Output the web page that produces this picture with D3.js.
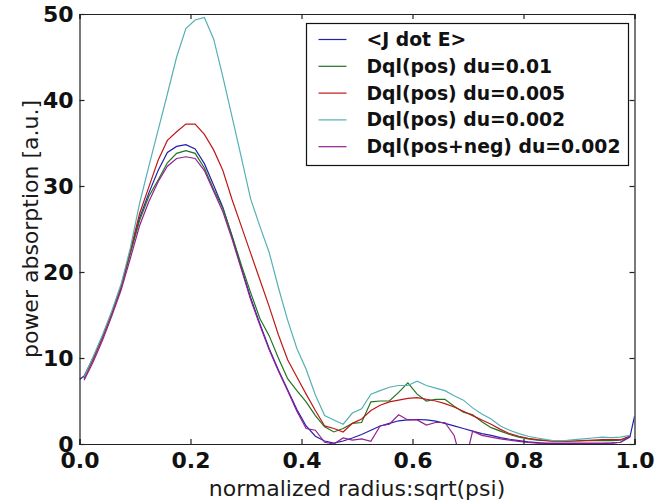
<!DOCTYPE html>
<html>
<head>
<meta charset="utf-8">
<script src="https://cdn.jsdelivr.net/npm/d3@7"></script>
<style>
body{margin:0;background:#fff;}
svg{font-family:"DejaVu Sans",sans-serif;}
</style>
</head>
<body>
<svg id="chart" width="672" height="504"></svg>
<script>
//power absorption profile

// Dql grids are cell centred, 60 cells on [0,1]
var gridR = d3.range(60).map(function(i){ return (i+0.5)/60; });

// <J dot E> has its own end points at 0 and 1
var jdotR = [0].concat(gridR).concat([1.0]);
var jdotV = [7.5,
	7.9,10.1,12.6,15.3,18.3,22.3,26.3,29.2,31.8,33.9,
	34.6,34.8,34.3,32.6,30.1,27.5,24.1,20.5,17.0,14.0,
	11.1,8.6,6.3,4.0,2.1,0.9,0.35,0.1,0.35,0.7,
	1.1,1.6,2.1,2.4,2.7,2.8,2.85,2.8,2.65,2.4,
	2.1,1.8,1.5,1.2,1.0,0.75,0.55,0.4,0.25,0.15,
	0.05,0.05,0.05,0.05,0.05,0.05,0.05,0.1,0.2,0.8,
	3.2];

var dql01 = [7.6,9.9,12.4,15.2,18.2,22.2,26.0,28.8,30.7,32.7,
	33.8,34.1,33.8,32.1,29.6,27.4,24.2,20.8,17.6,14.6,
	12.6,10.0,7.6,6.2,4.9,3.3,2.0,1.4,1.8,2.4,
	2.5,4.9,5.0,5.0,6.0,7.1,5.8,5.0,5.2,5.2,
	4.4,3.7,3.4,2.6,1.9,1.5,1.1,0.8,0.6,0.45,
	0.4,0.35,0.35,0.35,0.4,0.4,0.4,0.4,0.45,0.9];

var dql005 = [7.7,10.0,12.5,15.3,18.4,22.5,26.8,29.9,33.0,35.3,
	36.3,37.2,37.2,36.0,34.2,31.8,28.4,25.3,22.2,19.1,
	16.0,12.7,9.8,7.8,5.8,3.9,2.1,1.8,1.4,2.4,
	2.9,3.9,4.5,4.9,5.1,5.3,5.4,5.2,5.0,4.7,
	4.3,3.8,3.3,2.8,2.3,1.7,1.2,0.9,0.65,0.5,
	0.4,0.3,0.3,0.35,0.4,0.45,0.5,0.5,0.5,0.9];

var dql002 = [7.8,10.2,12.7,15.5,18.6,22.8,28.0,32.3,36.5,40.7,
	45.0,48.3,49.3,49.6,47.1,42.7,38.0,33.3,28.5,25.3,
	22.3,18.2,14.4,11.1,8.7,5.7,3.3,2.8,2.3,3.6,
	4.1,5.8,6.2,6.6,6.8,6.8,7.3,6.8,6.5,6.2,
	5.6,5.1,4.2,3.5,2.9,2.1,1.6,1.2,0.9,0.7,
	0.5,0.35,0.4,0.5,0.6,0.7,0.8,0.75,0.8,1.0];

var dqlPN002 = [7.4,9.6,12.1,14.9,17.9,21.6,25.4,28.2,30.5,32.3,
	33.2,33.4,33.2,31.8,29.4,27.0,23.8,20.3,16.8,13.8,
	11.0,8.5,6.2,3.8,1.8,1.6,0.2,0.0,0.7,0.45,
	0.6,0.3,2.1,2.3,3.4,2.8,2.8,2.2,2.5,2.5,
	1.0,-3.0,1.5,1.0,0.8,0.6,0.45,0.3,0.2,0.1,
	0.1,0.1,0.1,0.1,0.1,0.1,0.1,0.1,0.2,0.9];

var seriesNames = ["<J dot E>","Dql(pos) du=0.01","Dql(pos) du=0.005","Dql(pos) du=0.002","Dql(pos+neg) du=0.002"];
var seriesColors = ["#2222a8","#1f741f","#c01818","#55b0b4","#942094"];

var xTicks = [0.0,0.2,0.4,0.6,0.8,1.0];
var yTicks = [0,10,20,30,40,50];

var margin = {left:79.5, right:37.5, top:14, bottom:60};
var W = 672, H = 504;

function zipSeries(rs,vs){
	var out = [];
	for(var i=0;i<vs.length;i++)
		out.push([rs[i],vs[i]]);
	return out;
}

function drawChart(){
	var svg = d3.select("#chart");
	var x = d3.scaleLinear().domain([0,1]).range([margin.left, W-margin.right]);
	var y = d3.scaleLinear().domain([0,50]).range([H-margin.bottom, margin.top]);

	svg.append("defs").append("clipPath").attr("id","plotclip")
	.append("rect")
	.attr("x",x(0)).attr("y",y(50))
	.attr("width",x(1)-x(0)).attr("height",y(0)-y(50));

	var all = [
		zipSeries(jdotR,jdotV),
		zipSeries(gridR,dql01),
		zipSeries(gridR,dql005),
		zipSeries(gridR,dql002),
		zipSeries(gridR,dqlPN002)
	];

	var line = d3.line().x(function(d){return x(d[0]);}).y(function(d){return y(d[1]);});
	var plot = svg.append("g").attr("clip-path","url(#plotclip)");
	all.forEach(function(s,i){
		plot.append("path")
		.attr("d",line(s))
		.attr("fill","none")
		.attr("stroke",seriesColors[i])
		.attr("stroke-width",1.2);
	});

	// axes, ticks pointing in like the old mpl style
	var tl = 5;
	var fmt = d3.format(".1f");
	svg.append("g").attr("transform","translate(0,"+y(0)+")")
	.call(d3.axisBottom(x).tickValues(xTicks).tickSize(-tl).tickPadding(8).tickFormat(fmt))
	.call(styleAxis);
	svg.append("g").attr("transform","translate(0,"+y(50)+")")
	.call(d3.axisTop(x).tickValues(xTicks).tickSize(-tl).tickFormat(""))
	.call(styleAxis);
	svg.append("g").attr("transform","translate("+x(0)+",0)")
	.call(d3.axisLeft(y).tickValues(yTicks).tickSize(-tl).tickPadding(6))
	.call(styleAxis);
	svg.append("g").attr("transform","translate("+x(1)+",0)")
	.call(d3.axisRight(y).tickValues(yTicks).tickSize(-tl).tickFormat(""))
	.call(styleAxis);

	svg.append("text")
	.attr("x",(x(0)+x(1))/2).attr("y",496)
	.attr("text-anchor","middle")
	.style("font-size","22px").attr("fill","#1a1a1a")
	.text("normalized radius:sqrt(psi)");

	svg.append("text")
	.attr("transform","translate(38,"+((y(0)+y(50))/2)+") rotate(-90)")
	.attr("text-anchor","middle")
	.style("font-size","22px").attr("fill","#1a1a1a")
	.text("power absorption [a.u.]");

	drawLegend(svg);
}

function styleAxis(g){
	g.select(".domain").attr("stroke","#222").attr("stroke-width",1.2);
	g.selectAll(".tick line").attr("stroke","#222").attr("stroke-width",1.2);
	g.selectAll(".tick text")
	.attr("fill","#111")
	.style("font-size","22px")
	.style("font-weight","bold")
	.style("font-family","DejaVu Sans");
}

function drawLegend(svg){
	var lg = svg.append("g").attr("transform","translate(306.5,23.5)");
	lg.append("rect")
	.attr("width",322).attr("height",142)
	.attr("fill","#fff").attr("stroke","#111").attr("stroke-width",1.2);
	seriesNames.forEach(function(name,i){
		var cy = 16 + i*26.8;
		lg.append("line")
		.attr("x1",12).attr("x2",40).attr("y1",cy).attr("y2",cy)
		.attr("stroke",seriesColors[i]).attr("stroke-width",1.2);
		lg.append("text")
		.attr("x",60).attr("y",cy+6.5)
		.style("font-size","18.8px").style("font-weight","bold")
		.attr("fill","#111")
		.text(name);
	});
}

drawChart();
</script>
</body>
</html>
